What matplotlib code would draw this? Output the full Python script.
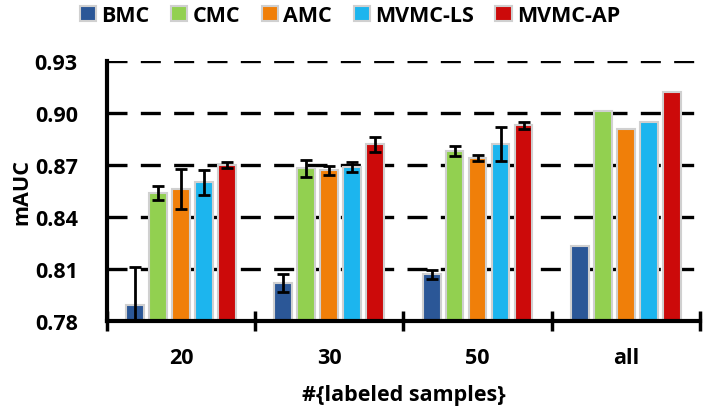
import matplotlib
matplotlib.use('Agg')
import matplotlib.pyplot as plt
import numpy as np

plt.rcParams['font.family'] = ['Open Sans', 'DejaVu Sans']
plt.rcParams['font.weight'] = 'bold'

groups = ['20', '30', '50', 'all']
methods = ['BMC', 'CMC', 'AMC', 'MVMC-LS', 'MVMC-AP']
colors = ['#2B5797', '#92D050', '#F07F09', '#1CB5EE', '#CC0A0A']

bmc = [0.789, 0.802, 0.807, 0.823]
cmc = [0.854, 0.868, 0.878, 0.901]
amc = [0.856, 0.867, 0.874, 0.891]
mvmc_ls = [0.860, 0.869, 0.882, 0.895]
mvmc_ap = [0.870, 0.882, 0.893, 0.912]

bmc_err = [0.022, 0.005, 0.0026, 0]
cmc_err = [0.004, 0.005, 0.003, 0]
amc_err = [0.0115, 0.0027, 0.0015, 0]
mvmc_ls_err = [0.0072, 0.003, 0.0098, 0]
mvmc_ap_err = [0.0015, 0.0043, 0.002, 0]

values = [bmc, cmc, amc, mvmc_ls, mvmc_ap]
errors = [bmc_err, cmc_err, amc_err, mvmc_ls_err, mvmc_ap_err]

fig = plt.figure(figsize=(7.07, 4.10), dpi=100)
ax = fig.add_axes([0.1513, 0.2146, 0.8387, 0.6342])

x = np.arange(len(groups))
step = 0.155
width = 0.12
for i, (vals, errs) in enumerate(zip(values, errors)):
    pos = x + (i - 2) * step
    ax.bar(pos, np.array(vals) - 0.78, width, bottom=0.78, color=colors[i],
           edgecolor='#d0d0d0', linewidth=1.5, label=methods[i], zorder=3)
    e = np.array(errs)
    m = e > 0
    ax.errorbar(pos[m], np.array(vals)[m], yerr=e[m], fmt='none', ecolor='black',
                elinewidth=2, capsize=4, capthick=2, zorder=4)

ax.set_xlim(-0.5, 3.5)
ax.set_ylim(0.78, 0.93)
ax.set_yticks([0.78, 0.81, 0.84, 0.87, 0.90, 0.93])
ax.set_yticklabels(['0.78', '0.81', '0.84', '0.87', '0.90', '0.93'])
ax.yaxis.grid(True, color='black', linestyle=(0, (6, 4)), linewidth=2.4, zorder=0)
ax.set_axisbelow(True)

ax.set_xticks(x)
ax.set_xticklabels(groups)
ax.set_xticks([-0.5, 0.5, 1.5, 2.5, 3.5], minor=True)
ax.tick_params(axis='x', which='major', length=0, labelsize=15.5, pad=19)
ax.tick_params(axis='x', which='minor', length=14, width=2.5, direction='inout')
ax.tick_params(axis='y', length=0, labelsize=15.5, pad=21)

for side in ['top', 'right']:
    ax.spines[side].set_visible(False)
ax.spines['left'].set_linewidth(3)
ax.spines['bottom'].set_linewidth(3)
ax.spines['bottom'].set_zorder(5)

ax.set_ylabel('mAUC', fontsize=15.5, fontweight='bold', labelpad=2)
ax.set_xlabel('#{labeled samples}', fontsize=15.5, fontweight='bold', labelpad=11)

handles, labels = ax.get_legend_handles_labels()
fig.legend(handles, labels, loc='center', bbox_to_anchor=(0.495, 0.96), ncol=5,
           frameon=False, fontsize=15.5, handlelength=0.75, handleheight=0.75,
           handletextpad=0.25, columnspacing=1.0, borderaxespad=0)

fig.savefig('out.png', dpi=100)
